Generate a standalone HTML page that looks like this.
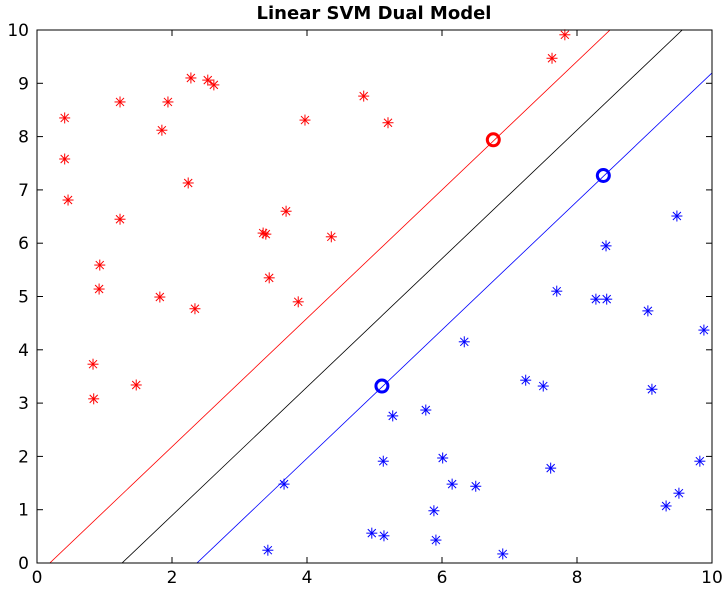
<!DOCTYPE html>
<html><head><meta charset="utf-8"><style>
html,body{margin:0;background:#fff;width:727px;height:595px;overflow:hidden}
svg{display:block;font-family:"DejaVu Sans","Liberation Sans",sans-serif}
</style></head><body>
<svg id="chart" width="727" height="595">
<defs><clipPath id="clip"><rect x="37" y="30" width="675" height="533"/></clipPath></defs>
<rect x="0" y="0" width="727" height="595" fill="#fff"/>
<text x="374" y="19" text-anchor="middle" font-weight="bold" font-size="18">Linear SVM Dual Model</text>
<g id="lines" clip-path="url(#clip)"></g>
<g id="pts"></g>
<g id="axes"></g>
</svg>
<script>
const redX=[0.41,0.41,0.46,1.23,1.94,1.85,2.28,2.53,2.62,4.84,5.20,3.97,2.24,1.23,3.69,3.35,3.39,4.36,0.93,0.92,3.44,1.82,3.87,2.34,0.83,0.84,1.47,7.82,7.63];
const redY=[8.35,7.58,6.81,8.65,8.65,8.12,9.10,9.06,8.97,8.76,8.26,8.31,7.13,6.45,6.60,6.19,6.17,6.12,5.59,5.14,5.35,4.99,4.90,4.77,3.73,3.08,3.34,9.91,9.47];
const blueX=[9.48,8.43,7.70,8.28,8.44,9.05,9.88,6.33,7.24,7.50,9.11,5.27,5.76,3.66,5.13,6.01,6.15,6.50,7.61,9.82,9.51,9.32,5.88,4.96,5.14,5.91,3.42,6.90];
const blueY=[6.51,5.95,5.10,4.95,4.95,4.73,4.37,4.15,3.43,3.32,3.26,2.76,2.87,1.48,1.91,1.97,1.48,1.44,1.78,1.91,1.31,1.07,0.98,0.56,0.51,0.43,0.24,0.17];
const svX=[6.76,8.39,5.11];
const svY=[7.94,7.27,3.32];
const svClass=["red","blue","blue"];
const lineX0=[0.19,1.26,2.37];
const lineSlope=[1.205,1.205,1.205];
const lineColor=["red","black","blue"];
const lineNames=["positive-margin-line","decision-boundary","negative-margin-line"];
const ticks=[0,2,4,6,8,10];
const yTicks=[0,1,2,3,4,5,6,7,8,9,10];

const L=37,R=712,T=30,B=563;
const sx=v=>L+(R-L)*v/10, sy=v=>B-(B-T)*v/10;
const NS="http://www.w3.org/2000/svg";
function mk(tag,attrs,parent){const e=document.createElementNS(NS,tag);for(const k in attrs)e.setAttribute(k,attrs[k]);parent.appendChild(e);return e;}
const gl=document.getElementById('lines'),gp=document.getElementById('pts'),ga=document.getElementById('axes');

lineX0.forEach((x0,i)=>{
  const x1=0,x2=10;
  const e=mk('line',{x1:sx(x1),y1:sy(lineSlope[i]*(x1-x0)),x2:sx(x2),y2:sy(lineSlope[i]*(x2-x0)),stroke:lineColor[i],'stroke-width':0.8},gl);
  
  
});

function star(x,y,c,name){
  const g=mk('g',{stroke:c,'stroke-width':1},gp);
  
  
  const px=sx(x),py=sy(y),s=5.5,d=4;
  mk('line',{x1:px-s,y1:py,x2:px+s,y2:py},g);
  mk('line',{x1:px,y1:py-s,x2:px,y2:py+s},g);
  mk('line',{x1:px-d,y1:py-d,x2:px+d,y2:py+d},g);
  mk('line',{x1:px-d,y1:py+d,x2:px+d,y2:py-d},g);
}
redX.forEach((x,i)=>star(x,redY[i],'red','red-point'));
blueX.forEach((x,i)=>star(x,blueY[i],'blue','blue-point'));
svX.forEach((x,i)=>{
  const c=mk('circle',{cx:sx(x),cy:sy(svY[i]),r:6,fill:'none',stroke:svClass[i],'stroke-width':3},gp);
  
  
});

const box=mk('rect',{x:L,y:T,width:R-L,height:B-T,fill:'none',stroke:'#000','stroke-width':1},ga);


ticks.forEach(t=>{
  mk('line',{x1:sx(t),y1:B,x2:sx(t),y2:B-6,stroke:'#000'},ga);
  mk('line',{x1:sx(t),y1:T,x2:sx(t),y2:T+6,stroke:'#000'},ga);
  const tx=mk('text',{x:sx(t),y:B+20,'text-anchor':'middle','font-size':17},ga);
  tx.textContent=t;
  
  
});
yTicks.forEach(t=>{
  mk('line',{x1:L,y1:sy(t),x2:L+6,y2:sy(t),stroke:'#000'},ga);
  mk('line',{x1:R,y1:sy(t),x2:R-6,y2:sy(t),stroke:'#000'},ga);
  const tx=mk('text',{x:L-8,y:sy(t)+6,'text-anchor':'end','font-size':17},ga);
  tx.textContent=t;
  
  
});
</script>
</body></html>
